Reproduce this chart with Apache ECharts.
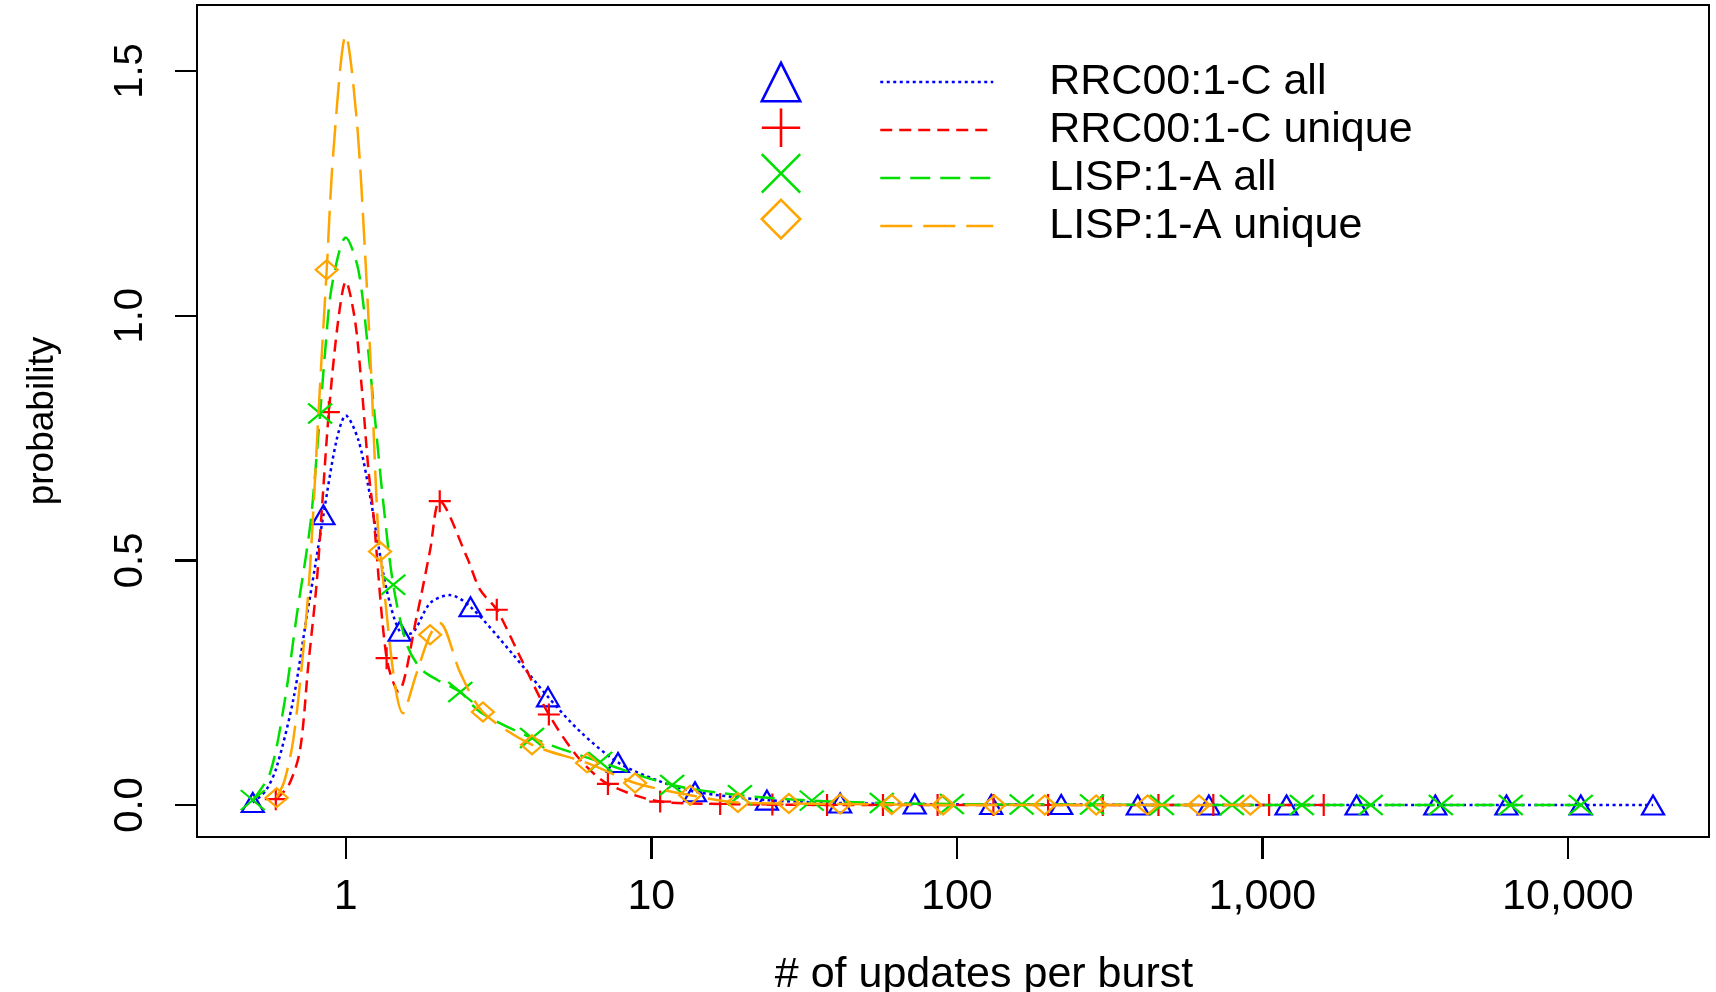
<!DOCTYPE html>
<html>
<head>
<meta charset="utf-8">
<script src="https://cdn.jsdelivr.net/npm/echarts@6/dist/echarts.min.js"></script>
<style>
  html, body { margin: 0; padding: 0; background: #fff; }
  #chart { width: 1716px; height: 992px; }
</style>
</head>
<body>
<div id="chart"></div>
<script>
// ---------------- data ----------------
const seriesNames = ['RRC00:1-C all', 'RRC00:1-C unique', 'LISP:1-A all', 'LISP:1-A unique'];

const xTickValues = [1, 10, 100, 1000, 10000];
const xTickLabels = ['1', '10', '100', '1,000', '10,000'];
const yTickValues = [0, 0.5, 1.0, 1.5];
const yTickLabels = ['0.0', '0.5', '1.0', '1.5'];

// RRC00:1-C all (blue, triangles)
const rrcAllMarkX = [0.496, 0.845, 1.50, 2.56, 4.59, 7.78, 13.9, 23.9, 41.5, 72.8, 129.6, 219.6, 391, 668, 1200, 2034, 3683, 6295, 11020, 19000];
const rrcAllMarkY = [0.005, 0.593, 0.355, 0.405, 0.221, 0.087, 0.027, 0.010, 0.004, 0.002, 0.001, 0.001, 0, 0, 0, 0, 0, 0, 0, 0];
const rrcAllCurveX = [0.548, 0.594, 0.673, 0.745, 0.793, 0.933, 1.0, 1.099, 1.186, 1.265, 1.36, 1.62, 1.89, 2.19, 3.5, 5.85, 10.5];
const rrcAllCurveY = [0.03, 0.078, 0.215, 0.385, 0.487, 0.746, 0.796, 0.746, 0.65, 0.548, 0.44, 0.35, 0.413, 0.429, 0.31, 0.15, 0.05];

// RRC00:1-C unique (red, plus)
const rrcUniqMarkX = [0.59, 0.88, 1.36, 2.03, 3.12, 4.62, 7.21, 10.69, 16.8, 24.9, 37.6, 57.3, 86.5, 131.7, 198.9, 300.4, 457, 691, 1052, 1588];
const rrcUniqMarkY = [0.012, 0.803, 0.30, 0.621, 0.399, 0.185, 0.043, 0.007, 0.002, 0.001, 0, 0, 0, 0, 0, 0, 0, 0, 0, 0];
const rrcUniqCurveX = [0.65, 0.708, 0.753, 0.803, 0.834, 0.944, 1.0, 1.072, 1.127, 1.186, 1.23, 1.486, 1.706, 1.888, 2.49, 2.75, 3.72, 5.8];
const rrcUniqCurveY = [0.04, 0.112, 0.283, 0.454, 0.60, 0.99, 1.07, 0.99, 0.855, 0.685, 0.597, 0.232, 0.385, 0.521, 0.507, 0.44, 0.303, 0.095];

// LISP:1-A all (green, x)
const lispAllMarkX = [0.496, 0.824, 1.43, 2.37, 4.07, 6.8, 11.7, 19.5, 33.5, 56.8, 96.3, 163, 277, 469, 795, 1346, 2263, 3838, 6503, 11020];
const lispAllMarkY = [0.010, 0.80, 0.45, 0.231, 0.137, 0.088, 0.041, 0.020, 0.009, 0.004, 0.002, 0.001, 0.001, 0, 0, 0, 0, 0, 0, 0];
const lispAllCurveX = [0.565, 0.632, 0.69, 0.745, 0.773, 0.855, 0.9, 1.0, 1.099, 1.186, 1.247, 1.327, 1.58, 1.75, 2.0, 2.75];
const lispAllCurveY = [0.065, 0.215, 0.385, 0.52, 0.597, 0.924, 1.06, 1.16, 1.094, 0.924, 0.787, 0.617, 0.33, 0.28, 0.255, 0.19];

// LISP:1-A unique (orange, diamonds)
const lispUniqMarkX = [0.594, 0.866, 1.294, 1.888, 2.81, 4.07, 6.16, 8.85, 13.4, 19.2, 28.2, 41.5, 61.2, 90.2, 132.8, 194.1, 285.8, 421, 620, 914];
const lispUniqMarkY = [0.015, 1.094, 0.518, 0.348, 0.19, 0.123, 0.086, 0.045, 0.020, 0.005, 0.003, 0.002, 0.001, 0, 0, 0, 0, 0, 0, 0];
const lispUniqCurveX = [0.63, 0.673, 0.726, 0.764, 0.823, 0.91, 1.0, 1.086, 1.156, 1.216, 1.262, 1.54, 1.706, 2.03, 2.37];
const lispUniqCurveY = [0.05, 0.133, 0.317, 0.487, 0.855, 1.333, 1.573, 1.40, 1.129, 0.855, 0.617, 0.1875, 0.27, 0.372, 0.27];

// ---------------- styling ----------------
const FONT = '"Liberation Sans", Arial, Helvetica, sans-serif';
const colors = ['#0000FF', '#FF0000', '#00E000', '#FFA500'];
const dashes = [[3, 3.5], [12, 7], [20, 10], [32, 11]];
const symbols = [
  'path://M5,0 L10,10 L0,10 Z',
  'path://M5,0 L5,10 M0,5 L10,5',
  'path://M0,0 L10,10 M10,0 L0,10',
  'path://M5,0 L10,5 L5,10 L0,5 Z'
];
const symbolSizes = [[22, 19], [22, 22], [24, 20], [22, 19]];
const X_MIN = 0.3258, X_MAX = 28970, Y_MIN = -0.0654, Y_MAX = 1.635;
const TICK_LEN = 22;

function build(markX, markY, curveX, curveY) {
  const pts = [];
  markX.forEach((x, i) => pts.push({ value: [x, markY[i]] }));
  curveX.forEach((x, i) => pts.push({ value: [x, curveY[i]], symbol: 'none' }));
  pts.sort((a, b) => a.value[0] - b.value[0]);
  return pts;
}

const seriesData = [
  build(rrcAllMarkX, rrcAllMarkY, rrcAllCurveX, rrcAllCurveY),
  build(rrcUniqMarkX, rrcUniqMarkY, rrcUniqCurveX, rrcUniqCurveY),
  build(lispAllMarkX, lispAllMarkY, lispAllCurveX, lispAllCurveY),
  build(lispUniqMarkX, lispUniqMarkY, lispUniqCurveX, lispUniqCurveY)
];

const series = seriesNames.map((name, i) => ({
  name: name,
  type: 'line',
  data: seriesData[i],
  smooth: 0.3,
  symbol: symbols[i],
  symbolSize: symbolSizes[i],
  showSymbol: true,
  z: 2 + i,
  itemStyle: { color: 'none', borderColor: colors[i], borderWidth: 2.2 },
  lineStyle: { color: colors[i], width: 2.5, type: dashes[i] },
  emphasis: { disabled: true },
  animation: false
}));

const chart = echarts.init(document.getElementById('chart'), null, { renderer: 'canvas' });

chart.setOption({
  backgroundColor: '#ffffff',
  animation: false,
  grid: {
    left: 197, top: 5, right: 7, bottom: 155,
    containLabel: false,
    outerBoundsMode: 'none',
    show: true, borderColor: '#000', borderWidth: 2, backgroundColor: 'transparent'
  },
  legend: [
    {
      // marker column
      orient: 'vertical', left: 756, top: 58, padding: 0, itemGap: 0,
      itemWidth: 48, itemHeight: 48,
      data: seriesNames,
      formatter: () => '',
      selectedMode: false,
      itemStyle: { borderWidth: 2.6 },
      lineStyle: { color: 'transparent' },
      textStyle: { fontSize: 1 }
    },
    {
      // line sample + label column
      orient: 'vertical', left: 879, top: 58, padding: 0, itemGap: 0,
      itemWidth: 113, itemHeight: 48,
      data: seriesNames,
      selectedMode: false,
      itemStyle: { color: 'transparent', borderColor: 'transparent' },
      lineStyle: { width: 2.5 },
      textStyle: { fontSize: 43, fontFamily: FONT, color: '#000', lineHeight: 48, padding: [0, 0, 0, 51] }
    }
  ],
  xAxis: {
    type: 'log',
    min: X_MIN,
    max: X_MAX,
    z: 10,
    name: '# of updates per burst',
    nameLocation: 'middle',
    nameGap: 117,
    nameTextStyle: { fontSize: 43, fontFamily: FONT, color: '#000', padding: [0, 0, 0, 62] },
    axisLine: { show: true, onZero: false, lineStyle: { color: '#000', width: 2 } },
    splitLine: { show: false },
    minorTick: { show: false },
    axisTick: { show: true, inside: false, length: TICK_LEN, lineStyle: { color: '#000', width: 2 }, customValues: xTickValues },
    axisLabel: {
      customValues: xTickValues,
      margin: 39,
      fontSize: 43, fontFamily: FONT, color: '#000',
      formatter: (v) => { const k = xTickValues.findIndex(t => Math.abs(t - v) / t < 1e-6); return k >= 0 ? xTickLabels[k] : ''; }
    }
  },
  yAxis: {
    type: 'value',
    min: Y_MIN,
    max: Y_MAX,
    z: 10,
    name: 'probability',
    nameLocation: 'middle',
    nameGap: 136,
    nameTextStyle: { fontSize: 37, fontFamily: FONT, color: '#000' },
    axisLine: { show: true, onZero: false, lineStyle: { color: '#000', width: 2 } },
    splitLine: { show: false },
    axisTick: { show: true, inside: false, length: TICK_LEN, lineStyle: { color: '#000', width: 2 }, customValues: yTickValues },
    axisLabel: {
      customValues: yTickValues,
      rotate: 90,
      margin: 46,
      fontSize: 40, fontFamily: FONT, color: '#000',
      formatter: (v) => { const k = yTickValues.findIndex(t => Math.abs(t - v) < 1e-6); return k >= 0 ? yTickLabels[k] : ''; }
    }
  },
  series: series
});

// Outward tick marks, positioned through the chart's own axis scales
(function addTicks() {
  const yBottom = chart.convertToPixel({ yAxisIndex: 0 }, Y_MIN);
  const xLeft = chart.convertToPixel({ xAxisIndex: 0 }, X_MIN);
  const tickStyle = { stroke: '#000', lineWidth: 2 };
  const elems = [];
  xTickValues.forEach(v => {
    const px = Math.round(chart.convertToPixel({ xAxisIndex: 0 }, v));
    elems.push({ type: 'line', silent: true, z: 100,
      shape: { x1: px, y1: yBottom, x2: px, y2: yBottom + TICK_LEN }, style: tickStyle });
  });
  yTickValues.forEach(v => {
    const py = Math.round(chart.convertToPixel({ yAxisIndex: 0 }, v));
    elems.push({ type: 'line', silent: true, z: 100,
      shape: { x1: xLeft, y1: py, x2: xLeft - TICK_LEN, y2: py }, style: tickStyle });
  });
  chart.setOption({ graphic: { elements: elems } });
})();
</script>
</body>
</html>
